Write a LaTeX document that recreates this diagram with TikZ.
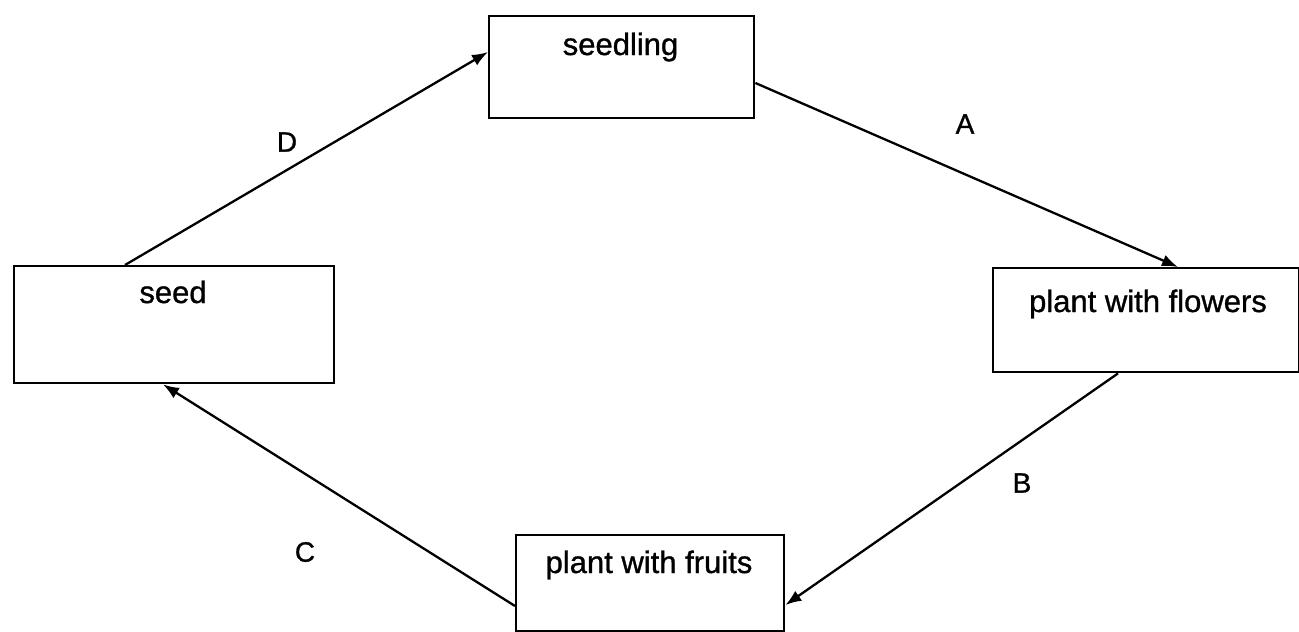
\documentclass[tikz,border=0pt]{standalone}
\usepackage{fontspec}
\setmainfont{Liberation Sans}[FakeBold=1]
\newfontfamily\scanfont{Liberation Sans}[FakeBold=1]
\usetikzlibrary{arrows.meta}
\begin{document}
\begin{tikzpicture}[x=1pt,y=-1pt,
  box/.style={draw,line width=2.4pt,inner sep=0pt,anchor=north west},
  lbl/.style={font=\scanfont\fontsize{31}{36}\selectfont,anchor=base,inner sep=0pt},
  letter/.style={font=\scanfont\fontsize{28}{32}\selectfont,inner sep=0pt},
  conn/.style={line width=2.3pt,-{Latex[length=16pt,width=12pt]}}]
\useasboundingbox (0,0) rectangle (1299,632);
\node[box,minimum width=265pt,minimum height=102pt] (seedling) at (488,15) {};
\node[box,minimum width=320pt,minimum height=117pt] (seed) at (13,265) {};
\node[box,minimum width=306pt,minimum height=104pt] (flowers) at (992,267) {};
\node[box,minimum width=268pt,minimum height=96pt] (fruits) at (515,534) {};
\node[lbl] (tseedling) at (620.5,55) {seedling};
\node[lbl] (tseed) at (173,303) {seed};
\node[lbl] (tflowers) at (1148,312) {plant with flowers};
\node[lbl] (tfruits) at (649,573) {plant with fruits};
\node[letter] (lD) at (287,142) {D};
\node[letter] (lA) at (965,124) {A};
\node[letter] (lB) at (1022,483) {B};
\node[letter] (lC) at (305,552) {C};
\coordinate (d1) at ([xshift=112pt]seed.north west);
\coordinate (d2) at ([yshift=-37pt]seedling.north west);
\coordinate (a1) at ([yshift=-68pt]seedling.north east);
\coordinate (a2) at ([xshift=186pt]flowers.north west);
\coordinate (b1) at ([xshift=126pt]flowers.south west);
\coordinate (b2) at ([yshift=-71pt]fruits.north east);
\coordinate (c1) at ([yshift=-72pt]fruits.north west);
\coordinate (c2) at ([xshift=150pt]seed.south west);
\draw[conn] (d1) -- (d2);
\draw[conn] (a1) -- (a2);
\draw[conn] (b1) -- (b2);
\draw[conn] (c1) -- (c2);
\end{tikzpicture}
\end{document}
